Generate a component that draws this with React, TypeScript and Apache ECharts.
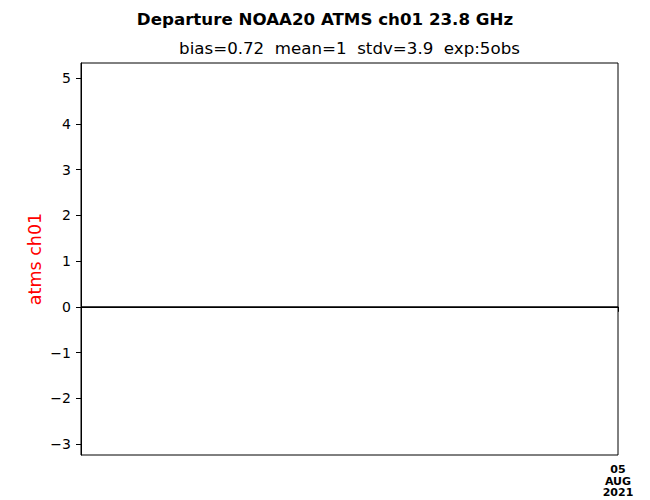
import React, { useEffect, useRef } from "react";
import * as echarts from "echarts";

const titleText = "Departure NOAA20 ATMS ch01 23.8 GHz";
const subtitleText = "bias=0.72  mean=1  stdv=3.9  exp:5obs";
const yAxisName = "atms ch01";
const yTicks = [-3, -2, -1, 0, 1, 2, 3, 4, 5];
const yMin = -3.24;
const yMax = 5.33;
const xStart = Date.UTC(2021, 7, 4, 12);
const xEnd = Date.UTC(2021, 7, 5, 0);
const xTicks = [Date.UTC(2021, 7, 5, 0)];
const zeroLineValue = 0;

const MONTHS = ["JAN","FEB","MAR","APR","MAY","JUN","JUL","AUG","SEP","OCT","NOV","DEC"];
const FONT = "DejaVu Sans";

export default function App() {
  const ref = useRef<HTMLDivElement>(null);
  useEffect(() => {
    if (!ref.current) return;
    const chart = echarts.init(ref.current, null, { renderer: "svg" });
    chart.setOption({
      animation: false,
      backgroundColor: "#ffffff",
      textStyle: { fontFamily: FONT },
      title: [
        {
          text: titleText,
          left: 320,
          top: 6,
          textAlign: "center",
          textStyle: { fontFamily: FONT, fontSize: 16.67, fontWeight: "bold", color: "#000" },
        },
        {
          text: subtitleText,
          left: 344.5,
          top: 35,
          textAlign: "center",
          textStyle: { fontFamily: FONT, fontSize: 16.67, fontWeight: "normal", color: "#000" },
        },
      ],
      grid: {
        left: 81,
        right: 32,
        top: 63,
        bottom: 45,
        show: true,
        borderColor: "#000",
        borderWidth: 1,
        backgroundColor: "transparent",
      },
      xAxis: {
        type: "value",
        min: xStart,
        max: xEnd,
        axisLine: { show: true, lineStyle: { color: "#000", width: 1 } },
        splitLine: { show: false },
        axisTick: { show: true, length: 5, inside: false, customValues: xTicks, lineStyle: { color: "#000" } },
        axisLabel: {
          customValues: xTicks,
          showMaxLabel: true,
          margin: 9,
          fontFamily: FONT,
          fontSize: 11,
          fontWeight: "bold",
          lineHeight: 11.5,
          color: "#000",
          formatter: (v: number) => {
            const d = new Date(v);
            const dd = String(d.getUTCDate()).padStart(2, "0");
            return dd + "\n" + MONTHS[d.getUTCMonth()] + "\n" + d.getUTCFullYear();
          },
        },
      },
      yAxis: {
        type: "value",
        min: yMin,
        max: yMax,
        name: yAxisName,
        nameLocation: "middle",
        nameGap: 37,
        nameMoveOverlap: false,
        nameRotate: 90,
        nameTextStyle: { fontFamily: FONT, fontSize: 17.5, color: "#ff0000" },
        axisLine: { show: true, lineStyle: { color: "#000", width: 1 } },
        splitLine: { show: false },
        axisTick: { show: true, length: 5, customValues: yTicks, lineStyle: { color: "#000" } },
        axisLabel: {
          customValues: yTicks,
          margin: 10,
          fontFamily: FONT,
          fontSize: 14,
          color: "#000",
          formatter: (v: number) => (v < 0 ? "\u2212" + Math.abs(v) : String(v)),
        },
      },
      series: [
        {
          type: "line",
          data: [],
          markLine: {
            silent: true,
            symbol: ["none", "none"],
            label: { show: false },
            lineStyle: { color: "#000", width: 1.6, type: "solid" },
            data: [{ yAxis: zeroLineValue }],
          },
        },
      ],
    });
    return () => chart.dispose();
  }, []);
  return <div ref={ref} style={{ position: "absolute", left: 0, top: 0, width: 650, height: 500 }} />;
}
